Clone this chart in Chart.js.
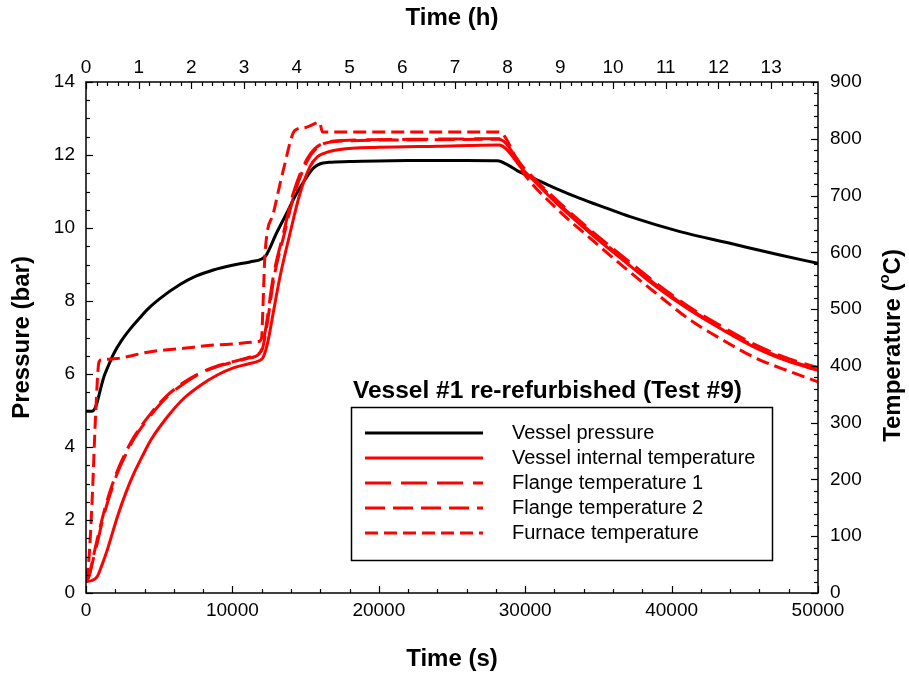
<!DOCTYPE html>
<html>
<head>
<meta charset="utf-8">
<script src="https://cdn.jsdelivr.net/npm/chart.js@4/dist/chart.umd.min.js"></script>
<style>
  body { margin: 0; background: #fff; }
</style>
</head>
<body>
<canvas id="chart" width="909" height="677"></canvas>
<script>
const FONT = "Arial, 'Liberation Sans', sans-serif";

// tick labels
const timeTicks = [0, 10000, 20000, 30000, 40000, 50000];
const hourTicks = [0, 1, 2, 3, 4, 5, 6, 7, 8, 9, 10, 11, 12, 13];
const pressureTicks = [0, 2, 4, 6, 8, 10, 12, 14];
const tempTicks = [0, 100, 200, 300, 400, 500, 600, 700, 800, 900];

const legendTitle = "Vessel #1 re-refurbished (Test #9)";
const seriesNames = ["Vessel pressure", "Vessel internal temperature", "Flange temperature 1",
  "Flange temperature 2", "Furnace temperature"];

// Vessel pressure (bar) vs time (s)
const pressureTime = [0, 400, 600, 770, 1000, 1230, 1500, 1910, 2400, 3050, 3700, 4150, 5000, 6420, 7500,
  8700, 10000, 11200, 12000, 12300, 13000, 13700, 14390, 15000, 15530, 16000, 16600, 18000, 22000, 26000,
  28100, 28800, 29500, 30330, 32000, 33740, 35500, 37160, 40570, 43990, 47400, 50000];
const pressureBar = [4.98, 4.98, 5.05, 5.24, 5.6, 5.93, 6.2, 6.57, 6.9, 7.25, 7.55, 7.75, 8.05, 8.45, 8.68,
  8.85, 8.98, 9.07, 9.15, 9.25, 9.85, 10.4, 10.95, 11.35, 11.64, 11.76, 11.8, 11.82, 11.85, 11.85,
  11.84, 11.73, 11.56, 11.41, 11.1, 10.81, 10.55, 10.31, 9.9, 9.58, 9.26, 9.03];

// Vessel internal temperature (C)
const vesselTime = [0, 400, 770, 1100, 1455, 2140, 2700, 3280, 3850, 4420, 5550, 6690, 7830, 8970, 10110,
  11000, 11820, 12100, 12400, 12800, 13250, 13930, 14620, 15300, 15800, 16210, 17350, 20000, 24000, 28200,
  29870, 32150, 34430, 36700, 38980, 41260, 43530, 45810, 48090, 50000];
const vesselTemp = [20, 22, 29, 50, 76, 134, 175, 211, 241, 269, 310, 343, 366, 384, 397,
  403, 409, 415, 440, 495, 557, 633, 704, 751, 768, 774, 781, 785, 787, 789,
  745, 686, 634, 586, 539, 498, 463, 431, 407, 392];

// Flange temperature 1 (C)
const flange1Time = [0, 200, 500, 770, 1100, 1455, 2140, 2700, 3280, 4420, 5550, 6690, 7830, 8970, 10110,
  11000, 11820, 12000, 12300, 12790, 13480, 14160, 15070, 15600, 16210, 17500, 22000, 28200,
  29870, 32150, 34430, 36700, 38980, 41260, 43530, 45810, 48090, 50000];
const flange1Temp = [20, 29, 60, 88, 125, 158, 211, 243, 272, 313, 346, 369, 387, 399, 407,
  413, 421, 430, 470, 557, 633, 704, 763, 782, 792, 797, 799, 800,
  748, 689, 637, 589, 542, 500, 465, 433, 409, 395];

// Flange temperature 2 (C)
const flange2Time = [0, 200, 500, 770, 1100, 1455, 2140, 2700, 3280, 4420, 5550, 6690, 7830, 8970, 10110,
  11000, 11820, 12050, 12350, 12850, 13550, 14250, 15150, 15700, 16300, 17500, 22000, 28200,
  29870, 32150, 34430, 36700, 38980, 41260, 43530, 45810, 48090, 50000];
const flange2Temp = [20, 30, 64, 95, 130, 164, 215, 247, 275, 316, 348, 371, 388, 400, 408,
  414, 422, 430, 470, 557, 633, 704, 763, 782, 792, 796, 798, 799,
  750, 692, 640, 592, 545, 503, 468, 436, 412, 397];

// Furnace temperature (C)
const furnaceTime = [0, 200, 430, 660, 890, 1100, 2140, 4420, 6690, 8970, 11820, 12000, 12070, 12230,
  12800, 13480, 14280, 15000, 15950, 16150, 17000, 28200,
  29870, 32150, 34430, 36700, 38980, 41260, 43530, 45810, 48090, 50000];
const furnaceTemp = [22, 60, 170, 316, 407, 411, 413, 425, 431, 437, 443, 450, 492, 598,
  669, 745, 815, 820, 829, 812, 812, 812,
  740, 677, 625, 575, 527, 481, 445, 413, 390, 372];

function pts(xs, ys) {
  return xs.map((x, i) => ({ x: x, y: ys[i] }));
}

const framePlugin = {
  id: 'frame',
  afterDatasetsDraw(chart) {
    const ctx = chart.ctx;
    const a = chart.chartArea;
    const s = chart.scales;
    ctx.save();
    ctx.strokeStyle = '#000';
    ctx.lineWidth = 1.5;
    ctx.strokeRect(a.left, a.top, a.right - a.left, a.bottom - a.top);
    ctx.lineWidth = 1.2;

    // inward tick marks: step, major every n
    function ticks(scale, step, every, horiz, base, dir) {
      const n = Math.round((scale.max - scale.min) / step + 1e-6);
      for (let i = 0; i <= n; i++) {
        const v = scale.min + i * step;
        if (v > scale.max + 1e-9) break;
        const p = Math.round(scale.getPixelForValue(v)) + 0.5;
        const len = (i % every === 0) ? 7 : 4;
        ctx.beginPath();
        if (horiz) { ctx.moveTo(p, base); ctx.lineTo(p, base + dir * len); }
        else { ctx.moveTo(base, p); ctx.lineTo(base + dir * len, p); }
        ctx.stroke();
      }
    }
    ticks(s.x, 2000, 5, true, a.bottom, -1);
    ticks(s.x2, 0.2, 5, true, a.top, 1);
    ticks(s.y, 0.5, 4, false, a.left, 1);
    ticks(s.y2, 20, 5, false, a.right, -1);

    // right axis title, reading bottom to top, with superscript o
    ctx.fillStyle = '#000';
    ctx.translate(s.y2.right - 16, (a.top + a.bottom) / 2 + 8);
    ctx.rotate(-Math.PI / 2);
    ctx.textBaseline = 'middle';
    const big = "bold 24px " + FONT, small = "bold 15px " + FONT;
    ctx.font = big;
    const t1 = "Temperature (", t3 = "C)";
    const w1 = ctx.measureText(t1).width, w3 = ctx.measureText(t3).width;
    ctx.font = small;
    const w2 = ctx.measureText("o").width;
    let x = -(w1 + w2 + w3) / 2;
    ctx.font = big; ctx.textAlign = 'left';
    ctx.fillText(t1, x, 0);
    ctx.font = small; ctx.fillText("o", x + w1, -8);
    ctx.font = big; ctx.fillText(t3, x + w1 + w2, 0);
    ctx.restore();

    // legend
    ctx.save();
    ctx.fillStyle = '#000';
    ctx.font = "bold 24.5px " + FONT;
    ctx.textBaseline = 'middle';
    ctx.textAlign = 'left';
    ctx.fillText(legendTitle, 353, 391);
    ctx.strokeStyle = '#000';
    ctx.lineWidth = 1.5;
    ctx.strokeRect(351.5, 407.5, 421, 153);
    ctx.font = "20px " + FONT;
    chart.data.datasets.forEach((ds, i) => {
      const y = 433 + i * 25;
      ctx.save();
      ctx.strokeStyle = ds.borderColor;
      ctx.lineWidth = ds.borderWidth;
      ctx.setLineDash(ds.borderDash || []);
      ctx.beginPath();
      ctx.moveTo(365, y);
      ctx.lineTo(483, y);
      ctx.stroke();
      ctx.restore();
      ctx.fillText(ds.label, 512, y);
    });
    ctx.restore();
  }
};

const tempLine = (label, xs, ys, dash) => ({
  label: label,
  data: pts(xs, ys),
  xAxisID: 'x',
  yAxisID: 'y2',
  borderColor: '#ff0000',
  borderWidth: 3,
  borderDash: dash,
  pointRadius: 0,
  cubicInterpolationMode: 'monotone',
  order: 0
});

const plain = (v) => String(v);

new Chart(document.getElementById('chart'), {
  type: 'line',
  data: {
    datasets: [
      {
        label: seriesNames[0],
        data: pts(pressureTime, pressureBar),
        xAxisID: 'x',
        yAxisID: 'y',
        borderColor: '#000000',
        borderWidth: 3,
        pointRadius: 0,
        cubicInterpolationMode: 'monotone',
        order: 1
      },
      tempLine(seriesNames[1], vesselTime, vesselTemp, []),
      tempLine(seriesNames[2], flange1Time, flange1Temp, [26, 10]),
      tempLine(seriesNames[3], flange2Time, flange2Temp, [20, 8]),
      tempLine(seriesNames[4], furnaceTime, furnaceTemp, [13, 6])
    ]
  },
  options: {
    responsive: false,
    animation: false,
    layout: { padding: 0 },
    plugins: {
      legend: { display: false },
      tooltip: { enabled: false }
    },
    scales: {
      x: {
        type: 'linear',
        position: 'bottom',
        min: 0,
        max: 50000,
        afterBuildTicks: (sc) => { sc.ticks = timeTicks.map(v => ({ value: v })); },
        afterFit: (sc) => { sc.height = 84; },
        grid: { display: false, drawTicks: false },
        border: { display: false },
        ticks: { padding: 6, color: '#000', font: { family: FONT, size: 19 }, maxRotation: 0, callback: plain },
        title: { display: true, text: 'Time (s)', color: '#000', padding: { bottom: 3 },
          font: { family: FONT, size: 24, weight: 'bold' } }
      },
      x2: {
        type: 'linear',
        position: 'top',
        min: 0,
        max: 50000 / 3600,
        afterBuildTicks: (sc) => { sc.ticks = hourTicks.map(v => ({ value: v })); },
        afterFit: (sc) => { sc.height = 82; },
        grid: { display: false, drawTicks: false },
        border: { display: false },
        ticks: { padding: 3, color: '#000', font: { family: FONT, size: 19 }, maxRotation: 0, callback: plain },
        title: { display: true, text: 'Time (h)', color: '#000', padding: { top: 4 },
          font: { family: FONT, size: 24, weight: 'bold' } }
      },
      y: {
        type: 'linear',
        position: 'left',
        min: 0,
        max: 14,
        afterBuildTicks: (sc) => { sc.ticks = pressureTicks.map(v => ({ value: v })); },
        afterFit: (sc) => { sc.width = 86; },
        grid: { display: false, drawTicks: false },
        border: { display: false },
        ticks: { padding: 11, color: '#000', font: { family: FONT, size: 19 }, callback: plain },
        title: { display: true, text: 'Pressure (bar)', color: '#000', padding: { top: 8 },
          font: { family: FONT, size: 24, weight: 'bold' } }
      },
      y2: {
        type: 'linear',
        position: 'right',
        min: 0,
        max: 900,
        afterBuildTicks: (sc) => { sc.ticks = tempTicks.map(v => ({ value: v })); },
        afterFit: (sc) => { sc.width = 91; },
        grid: { display: false, drawTicks: false },
        border: { display: false },
        ticks: { padding: 12, color: '#000', font: { family: FONT, size: 19 }, callback: plain },
        title: { display: false }
      }
    }
  },
  plugins: [framePlugin]
});
</script>
</body>
</html>
